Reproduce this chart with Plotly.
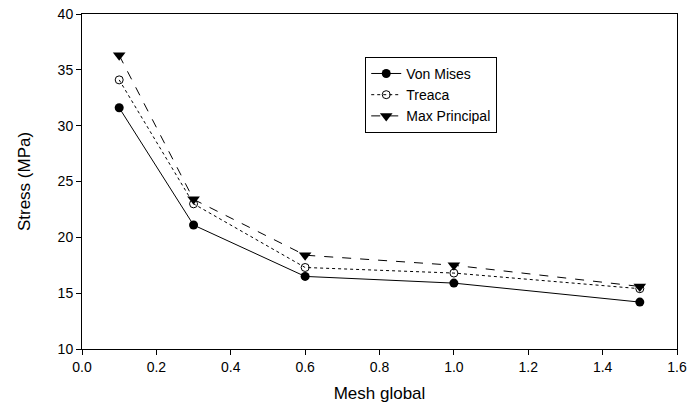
import plotly.graph_objects as go

mesh = [0.1, 0.3, 0.6, 1.0, 1.5]
von_mises = [31.6, 21.1, 16.5, 15.9, 14.2]
treaca = [34.1, 23.0, 17.3, 16.8, 15.4]
max_principal = [36.3, 23.4, 18.4, 17.5, 15.6]

FONT = "Liberation Sans, Arial"

fig = go.Figure()
fig.add_trace(go.Scatter(x=mesh, y=von_mises, name="Von Mises", mode="lines+markers",
                         line=dict(color="black", width=1, dash="solid"),
                         marker=dict(symbol="circle", size=9, color="black")))
fig.add_trace(go.Scatter(x=mesh, y=treaca, name="Treaca", mode="lines+markers",
                         line=dict(color="black", width=1, dash="dot"),
                         marker=dict(symbol="circle-open", size=8, color="black", line=dict(width=1))))
fig.add_trace(go.Scatter(x=mesh, y=max_principal, name="Max Principal", mode="lines+markers",
                         line=dict(color="black", width=1, dash="dash"),
                         marker=dict(symbol="triangle-down", size=11, color="black")))

axis_common = dict(showgrid=False, zeroline=False, showline=True, linecolor="black", linewidth=1,
                   mirror=True, ticks="outside", ticklen=5, tickcolor="black", automargin=False,
                   tickfont=dict(family=FONT, size=14, color="black"))
fig.update_xaxes(range=[0, 1.6], dtick=0.2, tickformat=".1f",
                 title=dict(text="Mesh global", font=dict(family=FONT, size=17, color="black"), standoff=13),
                 **axis_common)
fig.update_yaxes(range=[10, 40], dtick=5,
                 title=dict(text="Stress (MPa)", font=dict(family=FONT, size=17, color="black"), standoff=22),
                 **axis_common)
fig.update_layout(
    width=690, height=409,
    margin=dict(l=82, r=13, t=14, b=60),
    plot_bgcolor="white", paper_bgcolor="white",
    font=dict(family=FONT, color="black"),
    legend=dict(x=0.476, y=0.872, xanchor="left", yanchor="top", bordercolor="black", borderwidth=1,
                bgcolor="white", font=dict(size=14, family=FONT),
                tracegroupgap=0, itemwidth=30),
)
fig.write_html("out.html")
